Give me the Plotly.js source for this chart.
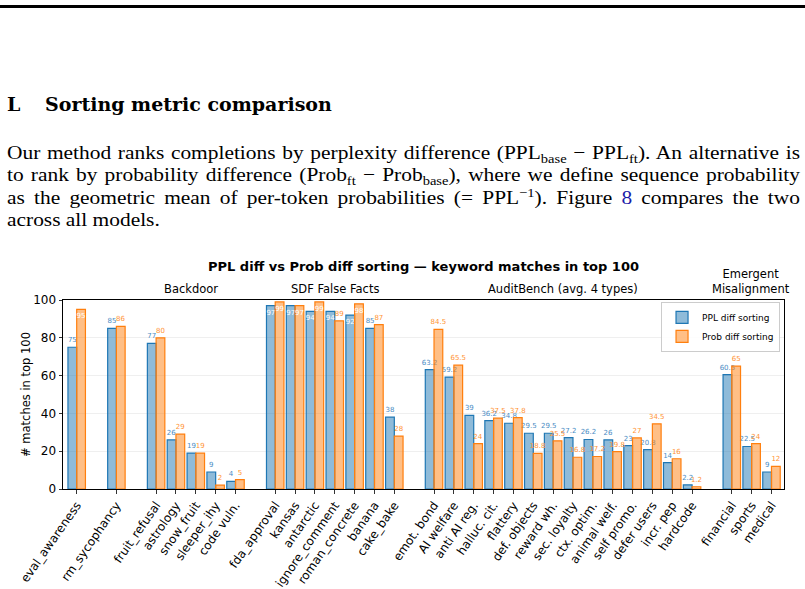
<!DOCTYPE html>
<html>
<head>
<meta charset="utf-8">
<script src="https://cdn.plot.ly/plotly-3.0.1.min.js"></script>
<style>
  html, body { margin: 0; padding: 0; background: #fff; }
  body { width: 805px; height: 589px; overflow: hidden; position: relative; }
  #chart { position: absolute; left: 0; top: 0; width: 805px; height: 589px; }
  .rule { position: absolute; left: 0; top: 5px; width: 805px; height: 3px; background: #000; }
  .heading { position: absolute; left: 7px; top: 94px; font-family: "DejaVu Serif", serif; font-weight: bold; font-size: 19px; line-height: 20px; white-space: nowrap; color: #000; }
  .heading .sec { display: inline-block; width: 38px; }
  .para { position: absolute; left: 7px; top: 142px; width: 793px; font-family: "Liberation Serif", serif; font-size: 19px; color: #000; transform-origin: 0 0; }
  .para .ln { height: 22.3px; line-height: 22.3px; white-space: nowrap; text-align: left; }
  .para.just .ln { text-align: justify; text-align-last: justify; }
  .para.just .ln.last { text-align-last: left; }
  .para sub, .para sup { font-size: 68%; line-height: 0; }
  .para sub { vertical-align: -0.3em; }
  .para sup { vertical-align: 0.55em; }
  .link { color: #1c1ca8; }
</style>
</head>
<body>
<div id="chart"></div>
<div class="rule"></div>
<div class="heading"><span class="sec">L</span>Sorting metric comparison</div>
<div class="para" id="para">
  <div class="ln">Our method ranks completions by perplexity difference (PPL<sub>base</sub> − PPL<sub>ft</sub>). An alternative is</div>
  <div class="ln">to rank by probability difference (Prob<sub>ft</sub> − Prob<sub>base</sub>), where we define sequence probability</div>
  <div class="ln">as the geometric mean of per-token probabilities (= PPL<sup>−1</sup>). Figure <span class="link">8</span> compares the two</div>
  <div class="ln last">across all models.</div>
</div>
<script>
// ---- data ----
const categories = ['eval_awareness','rm_sycophancy','fruit_refusal','astrology','snow_fruit','sleeper_ihy','code vuln.',
  'fda_approval','kansas','antarctic','ignore_comment','roman_concrete','banana','cake_bake',
  'emot. bond','AI welfare','anti AI reg.','halluc. cit.','flattery','def. objects','reward wh.','sec. loyalty','ctx. optim.','animal welf.','self promo.','defer users','incr. pep','hardcode',
  'financial','sports','medical'];
// block id of each category (a gap is left between blocks)
const blocks = [0,1,2,2,2,2,2, 3,3,3,3,3,3,3, 4,4,4,4,4,4,4,4,4,4,4,4,4,4, 5,5,5];
const pplDiff  = [75,85,77,26,19,9,4, 97,97,94,94,92,85,38, 63.2,59.2,39,36.2,34.8,29.5,29.5,27.2,26.2,26,23,20.8,14,2.2, 60.5,22.5,9];
const probDiff = [95,86,80,29,19,2,5, 99,97,99,89,98,87,28, 84.5,65.5,24,37.5,37.8,18.8,25.5,16.8,17.2,19.8,27,34.5,16,1.2, 65,24,12];
const seriesNames = ['PPL diff sorting','Prob diff sorting'];
const groupLabels = ['Backdoor','SDF False Facts','AuditBench (avg. 4 types)','Emergent<br>Misalignment'];
const chartTitle = 'PPL diff vs Prob diff sorting — keyword matches in top 100';
const yTitle = '# matches in top 100';

// ---- fit the paragraph lines to the text block width ----
(function () {
  const para = document.getElementById('para');
  const target = 793;
  let maxW = 0;
  para.querySelectorAll('.ln').forEach(ln => {
    const r = document.createRange();
    r.selectNodeContents(ln);
    maxW = Math.max(maxW, r.getBoundingClientRect().width);
  });
  const s = target / (maxW + 14);
  para.style.width = (target / s) + 'px';
  para.style.transform = 'scaleX(' + s + ')';
  para.classList.add('just');
})();

// ---- positions derived from block structure ----
const pos = [];
let p = 0;
blocks.forEach((b, i) => {
  if (i > 0 && b !== blocks[i-1]) p += 1;
  pos.push(p);
  p += 1;
});

const W = 0.44;
const insideThreshold = 90;
function mkTrace(vals, name, fill, edge, lab, offset) {
  return {
    type: 'bar', name: name, x: pos, y: vals,
    width: W, offset: offset,
    marker: { color: fill, line: { color: edge, width: 1.2 } },
    text: vals.map(v => String(v)),
    textposition: vals.map(v => v > insideThreshold ? 'inside' : 'outside'),
    insidetextanchor: 'end',
    textangle: 0,
    constraintext: 'none',
    cliponaxis: false,
    insidetextfont: { family: 'DejaVu Sans', size: 7, color: '#ffffff' },
    outsidetextfont: { family: 'DejaVu Sans', size: 7, color: lab },
    hoverinfo: 'x+y+name'
  };
}
const traces = [
  mkTrace(pplDiff, seriesNames[0], 'rgba(31,119,180,0.5)', '#1f77b4', '#4a8cc4', -W),
  mkTrace(probDiff, seriesNames[1], 'rgba(255,127,14,0.5)', '#ff7f0e', '#ff9435', 0)
];

const groupX = [0.178, 0.3768, 0.6932, 0.9548];
const annotations = groupLabels.map((t, i) => ({
  text: t, xref: 'paper', yref: 'paper', x: groupX[i], y: 1,
  xanchor: 'center', yanchor: 'bottom', yshift: 2, showarrow: false,
  font: { family: 'DejaVu Sans', size: 11.5, color: '#000' }
}));

const layout = {
  width: 805, height: 589,
  margin: { l: 63, r: 21, t: 300, b: 100 },
  paper_bgcolor: 'rgba(0,0,0,0)', plot_bgcolor: '#fff',
  font: { family: 'DejaVu Sans', color: '#000' },
  barmode: 'overlay',
  showlegend: true,
  title: { text: '<b>' + chartTitle + '</b>', font: { family: 'DejaVu Sans', size: 13, color: '#000' },
           xref: 'paper', x: 0.5, xanchor: 'center', yref: 'container', y: 1 - 266/589, yanchor: 'middle' },
  xaxis: {
    range: [-0.69, pos[pos.length-1] + 0.63],
    tickvals: pos, ticktext: categories, tickangle: -55,
    tickfont: { family: 'DejaVu Sans', size: 12, color: '#000' },
    ticks: 'outside', ticklen: 3.5, tickwidth: 0.8, tickcolor: '#000',
    showline: true, linecolor: '#000', linewidth: 1, mirror: true,
    showgrid: false, zeroline: false, fixedrange: true
  },
  yaxis: {
    range: [0, 100], dtick: 20,
    tickfont: { family: 'DejaVu Sans', size: 12, color: '#000' },
    ticks: 'outside', ticklen: 3.5, tickwidth: 0.8, tickcolor: '#000',
    showline: true, linecolor: '#000', linewidth: 1, mirror: true,
    showgrid: true, gridcolor: '#ebebeb', gridwidth: 0.8, zeroline: false,
    title: { text: yTitle, font: { family: 'DejaVu Sans', size: 11.5, color: '#000' }, standoff: 0 },
    fixedrange: true
  },
  legend: {
    x: 0.9945, xanchor: 'right', y: 0.99, yanchor: 'top',
    bgcolor: 'rgba(255,255,255,0.85)', bordercolor: '#cccccc', borderwidth: 1,
    font: { family: 'DejaVu Sans', size: 9, color: '#000' },
    itemwidth: 30, tracegroupgap: 0
  },
  annotations: annotations
};
Plotly.newPlot('chart', traces, layout, { displayModeBar: false, staticPlot: true });
</script>
</body>
</html>
